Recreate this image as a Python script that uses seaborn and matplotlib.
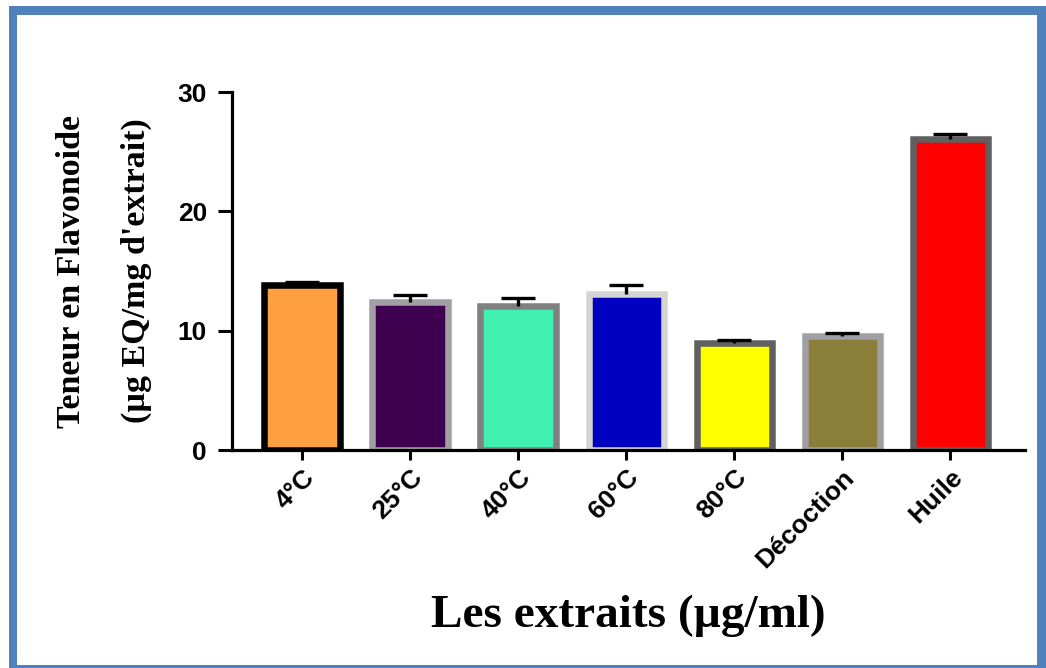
import seaborn as sns
import matplotlib.pyplot as plt
import matplotlib.patches as mpatches
import numpy as np

# data
categories = ["4°C", "25°C", "40°C", "60°C", "80°C", "Décoction", "Huile"]
values = [13.8, 12.4, 12.1, 13.1, 8.95, 9.55, 26.1]
errors = [0.3, 0.55, 0.6, 0.7, 0.3, 0.25, 0.35]
fill_colors = ["#ff9f40", "#400050", "#40f0b0", "#0000c0", "#ffff00", "#8b7d3a", "#ff0000"]
edge_colors = ["#000000", "#a0a0a4", "#808080", "#d4d4d4", "#606060", "#a0a0a4", "#606060"]

sns.set_style("ticks")
plt.rcParams["font.family"] = ["Liberation Sans", "DejaVu Sans"]

W, H = 1046, 668
fig = plt.figure(figsize=(W / 100, H / 100), dpi=100)
ax = fig.add_axes([232 / W, 1 - 450 / H, (1025 - 232) / W, (450 - 92) / H])

sns.barplot(x=categories, y=values, hue=categories, palette=fill_colors,
            legend=False, width=0.70, linewidth=4.7, ax=ax, errorbar=None,
            saturation=1)
for patch, ec in zip(ax.patches, edge_colors):
    patch.set_edgecolor(ec)

# upper error bars only (no cap on the bar top)
x = np.arange(len(categories))
_, caps, _ = ax.errorbar(x, values, yerr=[np.zeros(len(errors)), errors], fmt="none",
                         ecolor="black", elinewidth=2.4, capsize=12, capthick=2.4,
                         zorder=5)
caps[0].remove()

ax.set_xlim(-0.65, 6.69)
ax.set_ylim(0, 30)
ax.set_yticks([0, 10, 20, 30])
sns.despine(ax=ax)
for s in ["left", "bottom"]:
    ax.spines[s].set_linewidth(2.3)
    ax.spines[s].set_color("black")
    ax.spines[s].set_zorder(6)
ax.tick_params(axis="both", colors="black", width=2.2, labelsize=19)
ax.tick_params(axis="y", length=10, pad=8)
ax.tick_params(axis="x", length=7, pad=4)
for lab in ax.get_yticklabels():
    lab.set_fontweight("bold")
for lab in ax.get_xticklabels():
    lab.set_fontweight("bold")
    lab.set_rotation(45)
    lab.set_ha("right")
    lab.set_rotation_mode("anchor")

ax.set_ylabel("Teneur en Flavonoide\n(µg EQ/mg d'extrait)", fontsize=24.5,
              fontweight="bold", family=["Liberation Serif", "DejaVu Serif"],
              linespacing=2.4, color="black")
ax.yaxis.set_label_coords(-0.101, 0.5)
ax.set_xlabel("Les extraits (µg/ml)", fontsize=34, fontweight="bold",
              family=["Liberation Serif", "DejaVu Serif"], color="black")
ax.xaxis.set_label_coords(0.5, -0.405)

# blue frame around the figure
blue = "#4f81bd"
for (x0, y0, x1, y1) in [(9, 6, 17, 668), (9, 6, 1046, 15),
                         (1037, 6, 1046, 668), (9, 665, 1046, 668)]:
    fig.patches.append(mpatches.Rectangle((x0 / W, 1 - y1 / H), (x1 - x0) / W,
                                          (y1 - y0) / H, transform=fig.transFigure,
                                          facecolor=blue, edgecolor="none"))

fig.savefig("out.png", dpi=100)
